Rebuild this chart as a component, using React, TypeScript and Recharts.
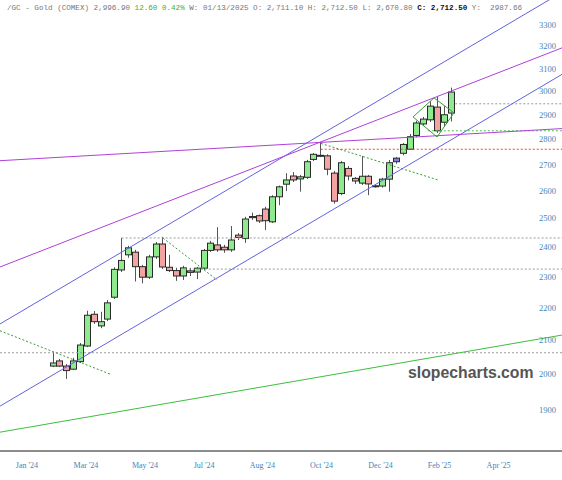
import React from 'react';
import { ComposedChart, Bar, XAxis, YAxis, ReferenceLine } from 'recharts';

// Weekly OHLC (candle index 0..58)
const opens = [2023,2038,2023,2014,2036,2082,2179,2143,2164,2233,2322,2373,2382,2333,2298,2366,2410,2331,2320,2302,2314,2315,2328,2388,2407,2399,2390,2441,2429,2503,2510,2534,2488,2579,2626,2657,2646,2652,2721,2736,2735,2668,2591,2686,2648,2630,2656,2618,2619,2645,2712,2745,2761,2816,2863,2880,2933,2870,2908];
const highs = [2064,2044,2029,2047,2091,2190,2189,2187,2224,2331,2431,2404,2390,2339,2373,2417,2435,2373,2329,2336,2329,2332,2393,2421,2469,2407,2473,2448,2506,2521,2514,2542,2585,2621,2668,2672,2661,2719,2746,2790,2741,2676,2715,2695,2653,2734,2661,2624,2650,2719,2730,2786,2822,2876,2892,2958,2976,2937,3016];
const lows = [2020,2020,1986,2012,2032,2079,2149,2136,2158,2227,2315,2363,2284,2278,2292,2359,2325,2315,2286,2289,2302,2292,2322,2383,2383,2380,2383,2424,2414,2495,2484,2459,2484,2548,2600,2634,2598,2646,2715,2730,2660,2554,2585,2640,2627,2623,2585,2613,2613,2598,2704,2737,2758,2809,2855,2871,2826,2851,2873];
const closes = [2032,2023,2010,2038,2085,2176,2156,2156,2215,2324,2354,2397,2333,2298,2366,2410,2332,2320,2302,2329,2319,2328,2388,2413,2390,2390,2424,2433,2498,2507,2491,2492,2579,2616,2642,2642,2654,2712,2741,2737,2683,2563,2708,2657,2638,2656,2627,2620,2645,2708,2726,2780,2811,2867,2883,2937,2835,2901,2997];
const highlightIndex = 50;

// Axis ticks
const yTicks = [1900, 2000, 2100, 2200, 2300, 2400, 2500, 2600, 2700, 2800, 2900, 3000, 3100, 3200, 3300];
const xTickPos = [-3.8, 4.8, 13.4, 22.0, 30.5, 39.1, 47.7, 56.3, 64.9];
const xTickLabels = ["Jan '24", "Mar '24", "May '24", "Jul '24", "Aug '24", "Oct '24", "Dec '24", "Feb '25", "Apr '25"];

// Drawn lines: [x1, price1, x2, price2]
const channelLines = [
  [-7.72, 2149, 74.14, 3458],
  [-7.72, 1910, 74.14, 3074],
];
const purpleLines = [
  [-7.72, 2332, 74.14, 3193],
  [-7.72, 2716, 74.14, 2844],
];
const greenLine = [-7.72, 1840, 74.14, 2115];
const greenDotted = [
  [-7.72, 2128, 8.3, 2000],
  [16.02, 2431, 23.89, 2289],
  [39.04, 2784, 56.08, 2642],
];
const diamond = [
  [52.44, 2892],
  [55.5, 2972],
  [58.41, 2909],
  [55.94, 2810],
];
// Horizontal levels: [price, startX, color]
const levels: [number, number, string][] = [
  [2062, -7.72, '#9a9a9a'],
  [2431, 10.0, '#9a9a9a'],
  [2325, 19.2, '#9a9a9a'],
  [2761, 39.0, '#e8453c'],
  [2835, 54.6, '#4cc44c'],
  [2947, 58.6, '#9a9a9a'],
];

const rows = opens.map((o, i) => ({
  k: i,
  o,
  h: highs[i],
  l: lows[i],
  c: closes[i],
  range: [lows[i], highs[i]],
}));

const Candle = (props: any) => {
  const { x, y, width, height, payload, index } = props;
  if (x == null || y == null) return null;
  const { o, h, l, c } = payload;
  const cx = Math.round(x + width / 2) + 0.5;
  const lnH = Math.log(h);
  const lnL = Math.log(l);
  const pix = (v: number) => y + (height * (lnH - Math.log(v))) / (lnH - lnL || 1);
  const yo = pix(o);
  const yc = pix(c);
  const top = Math.min(yo, yc);
  const bh = Math.max(1, Math.abs(yc - yo));
  const up = c >= o;
  const fill = index === highlightIndex ? '#7f7fe0' : up ? '#8fe98f' : '#f4a3a3';
  return (
    <g>
      <line x1={cx} x2={cx} y1={y} y2={y + height} stroke="#555" strokeWidth={1} />
      <rect x={cx - 3} y={top} width={6} height={bh} fill={fill} stroke="#2a2a2a" strokeWidth={1} />
    </g>
  );
};

const seg = (a: number[]) => [
  { x: a[0], y: a[1] },
  { x: a[2], y: a[3] },
];

export default function App() {
  return (
    <div style={{ position: 'absolute', left: 0, top: 0, width: 562, height: 480, background: '#fff', overflow: 'hidden' }}>
      <ComposedChart width={562} height={480} data={rows} margin={{ top: 0, right: 0, bottom: 0, left: 0 }}>
        <XAxis
          dataKey="k"
          type="number"
          domain={[-7.72, 74.14]}
          allowDataOverflow
          ticks={xTickPos}
          tickFormatter={(v: number) => xTickLabels[xTickPos.indexOf(v)] ?? ''}
          height={29}
          axisLine={{ stroke: '#8c8c8c', strokeWidth: 2 }}
          tickLine={false}
          tickSize={0}
          tickMargin={11}
          interval={0}
          tick={{ fill: '#3f86b8', fontSize: 8, fontFamily: 'Liberation Serif, serif' }}
        />
        <YAxis
          type="number"
          scale="log"
          domain={[1791, 3420]}
          allowDataOverflow
          ticks={yTicks}
          orientation="right"
          mirror
          width={40}
          axisLine={false}
          tickLine={false}
          tickSize={0}
          tickMargin={6}
          interval={0}
          tick={{ fill: '#3f86b8', fontSize: 8.5, fontFamily: 'Liberation Serif, serif' }}
        />
        {levels.map((lv, i) => (
          <ReferenceLine
            key={'lv' + i}
            segment={[{ x: lv[1], y: lv[0] }, { x: 74.14, y: lv[0] }]}
            stroke={lv[2]}
            strokeDasharray="2 2"
            strokeWidth={1}
            ifOverflow="hidden"
          />
        ))}
        <ReferenceLine segment={seg(greenLine)} stroke="#3cbf3c" strokeWidth={1} ifOverflow="hidden" />
        {greenDotted.map((g, i) => (
          <ReferenceLine key={'gd' + i} segment={seg(g)} stroke="#3a9a3a" strokeDasharray="2 2" strokeWidth={1} ifOverflow="hidden" />
        ))}
        {channelLines.map((g, i) => (
          <ReferenceLine key={'ch' + i} segment={seg(g)} stroke="#6262e0" strokeWidth={1} ifOverflow="hidden" />
        ))}
        {purpleLines.map((g, i) => (
          <ReferenceLine key={'pl' + i} segment={seg(g)} stroke="#b040d8" strokeWidth={1} ifOverflow="hidden" />
        ))}
        {diamond.map((p, i) => {
          const q = diamond[(i + 1) % diamond.length];
          return (
            <ReferenceLine
              key={'dm' + i}
              segment={[{ x: p[0], y: p[1] }, { x: q[0], y: q[1] }]}
              stroke="#3a9a3a"
              strokeWidth={1}
              ifOverflow="hidden"
            />
          );
        })}
        <Bar dataKey="range" shape={<Candle />} isAnimationActive={false} barSize={6} />
      </ComposedChart>
      <div
        style={{
          position: 'absolute',
          left: 7,
          top: 3,
          fontFamily: 'Liberation Mono, monospace',
          fontSize: 7.6,
          color: '#777',
          whiteSpace: 'pre',
          lineHeight: '10px',
        }}
      >
        {'/GC - Gold (COMEX) 2,996.90 '}
        <span style={{ color: '#3cae3c' }}>{'12.60 0.42%'}</span>
        {' W: 01/13/2025 O: 2,711.10 H: 2,712.50 L: 2,670.80 '}
        <b style={{ color: '#111' }}>{'C: 2,712.50'}</b>
        {' Y:  2987.66'}
      </div>
      <div
        style={{
          position: 'absolute',
          left: 408,
          top: 363,
          fontFamily: 'Liberation Sans, Arial, sans-serif',
          fontWeight: 'bold',
          fontSize: 15.8,
          color: '#555',
          lineHeight: '20px',
        }}
      >
        slopecharts.com
      </div>
    </div>
  );
}
